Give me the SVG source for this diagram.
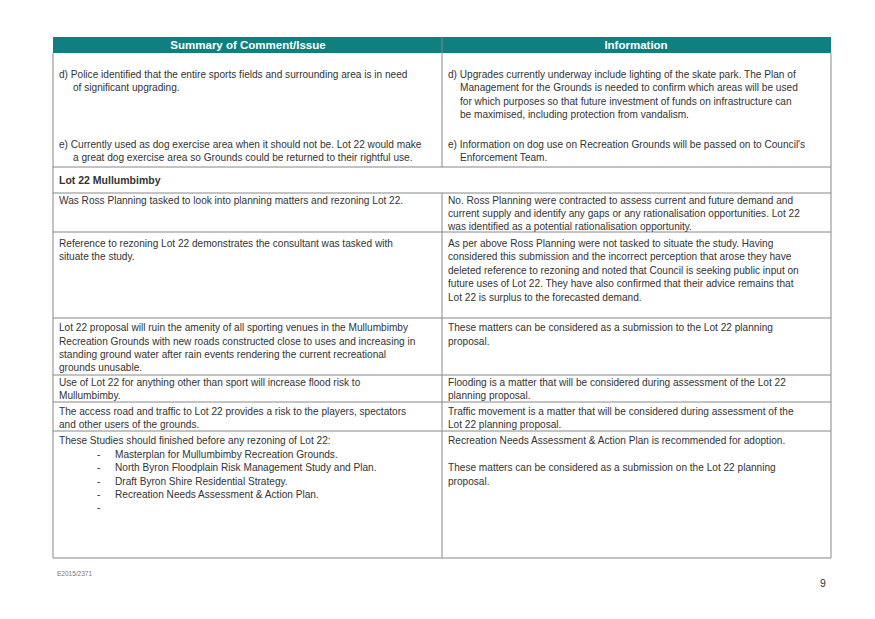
<svg xmlns="http://www.w3.org/2000/svg" width="875" height="619" viewBox="0 0 875 619">
<style>
text{font-family:"Liberation Sans",Arial,sans-serif;font-size:10.1px;fill:#333}
.h{font-weight:bold;fill:#fff;font-size:11.5px;text-anchor:middle}
.b{font-weight:bold;font-size:10.5px}
.l{stroke:#888;stroke-width:1}
</style>
<rect width="875" height="619" fill="#fff"/>
<g id="table">
<rect x="53" y="37" width="778" height="16" fill="#0f7f7f"/>
<line class="l" x1="442" y1="37" x2="442" y2="53" stroke="#fff"/>
<text class="h" x="248" y="49">Summary of Comment/Issue</text>
<text class="h" x="636" y="49">Information</text>
<g class="l">
<line x1="53" y1="53" x2="53" y2="558"/><line x1="831" y1="53" x2="831" y2="558"/>
<line x1="442" y1="53" x2="442" y2="167"/><line x1="442" y1="193" x2="442" y2="558"/>
<line x1="53" y1="167" x2="831" y2="167"/><line x1="53" y1="193" x2="831" y2="193"/>
<line x1="53" y1="232" x2="831" y2="232"/><line x1="53" y1="318" x2="831" y2="318"/>
<line x1="53" y1="375" x2="831" y2="375"/><line x1="53" y1="402" x2="831" y2="402"/>
<line x1="53" y1="431" x2="831" y2="431"/><line x1="53" y1="558" x2="831" y2="558"/>
</g>
</g>
<g id="r1">
<text x="59" y="78">d)  Police identified that the entire sports fields and surrounding area is in need</text>
<text x="73" y="91">of significant upgrading.</text>
<text x="448" y="78">d) Upgrades currently underway include lighting of the skate park. The Plan of</text>
<text x="460" y="91">Management for the Grounds is needed to confirm which areas will be used</text>
<text x="460" y="105">for which purposes so that future investment of funds on infrastructure can</text>
<text x="460" y="118">be maximised, including protection from vandalism.</text>
<text x="59" y="148">e)  Currently used as dog exercise area when it should not be. Lot 22 would make</text>
<text x="73" y="161">a great dog exercise area so Grounds could be returned to their rightful use.</text>
<text x="448" y="148">e) Information on dog use on Recreation Grounds will be passed on to Council's</text>
<text x="460" y="161">Enforcement Team.</text>
</g>
<g id="r2"><text class="b" x="59" y="184">Lot 22 Mullumbimby</text></g>
<g id="r3">
<text x="59" y="204">Was Ross Planning tasked to look into planning matters and rezoning Lot 22.</text>
<text x="448" y="204">No. Ross Planning were contracted to assess current and future demand and</text>
<text x="448" y="217">current supply and identify any gaps or any rationalisation opportunities. Lot 22</text>
<text x="448" y="230">was identified as a potential rationalisation opportunity.</text>
</g>
<g id="r4">
<text x="59" y="247">Reference to rezoning Lot 22 demonstrates the consultant was tasked with</text>
<text x="59" y="260">situate the study.</text>
<text x="448" y="247">As per above Ross Planning were not tasked to situate the study. Having</text>
<text x="448" y="260">considered this submission and the incorrect perception that arose they have</text>
<text x="448" y="274">deleted reference to rezoning and noted that Council is seeking public input on</text>
<text x="448" y="287">future uses of Lot 22. They have also confirmed that their advice remains that</text>
<text x="448" y="301">Lot 22 is surplus to the forecasted demand.</text>
</g>
<g id="r5">
<text x="59" y="331">Lot 22 proposal will ruin the amenity of all sporting venues in the Mullumbimby</text>
<text x="59" y="345">Recreation Grounds with new roads constructed close to uses and increasing in</text>
<text x="59" y="358">standing ground water after rain events rendering the current recreational</text>
<text x="59" y="371">grounds unusable.</text>
<text x="448" y="331">These matters can be considered as a submission to the Lot 22 planning</text>
<text x="448" y="345">proposal.</text>
</g>
<g id="r6">
<text x="59" y="386">Use of Lot 22 for anything other than sport will increase flood risk to</text>
<text x="59" y="399">Mullumbimby.</text>
<text x="448" y="386">Flooding is a matter that will be considered during assessment of the Lot 22</text>
<text x="448" y="399">planning proposal.</text>
</g>
<g id="r7">
<text x="59" y="415">The access road and traffic to Lot 22 provides a risk to the players, spectators</text>
<text x="59" y="428">and other users of the grounds.</text>
<text x="448" y="415">Traffic movement is a matter that will be considered during assessment of the</text>
<text x="448" y="428">Lot 22 planning proposal.</text>
</g>
<g id="r8">
<text x="59" y="444">These Studies should finished before any rezoning of Lot 22:</text>
<text x="97" y="458">-</text><text x="115" y="458">Masterplan for Mullumbimby Recreation Grounds.</text>
<text x="97" y="471">-</text><text x="115" y="471">North Byron Floodplain Risk Management Study and Plan.</text>
<text x="97" y="485">-</text><text x="115" y="485">Draft Byron Shire Residential Strategy.</text>
<text x="97" y="498">-</text><text x="115" y="498">Recreation Needs Assessment &amp; Action Plan.</text>
<text x="97" y="511">-</text>
<text x="448" y="444">Recreation Needs Assessment &amp; Action Plan is recommended for adoption.</text>
<text x="448" y="471">These matters can be considered as a submission on the Lot 22 planning</text>
<text x="448" y="485">proposal.</text>
</g>
<g id="footer">
<text x="57" y="576" style="font-size:6.5px;fill:#777">E2015/2371</text>
<text x="820" y="587" style="font-size:10.5px">9</text>
</g>
</svg>
